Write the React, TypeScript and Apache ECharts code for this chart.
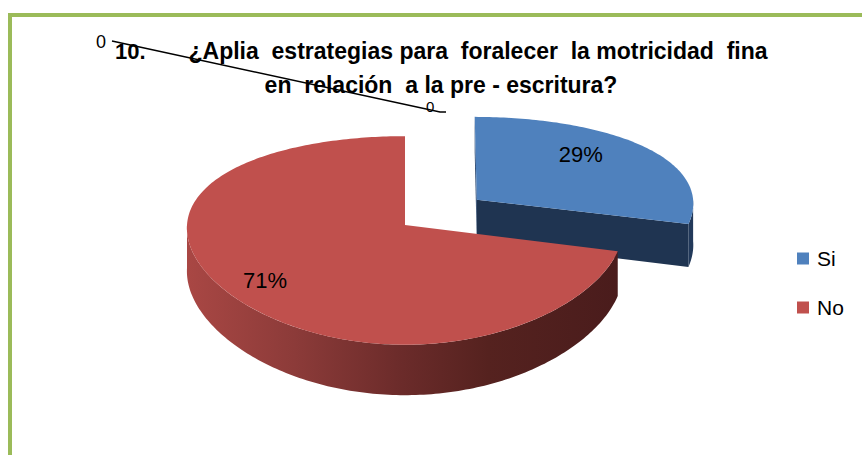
import React, { useEffect, useRef } from "react";
import * as echarts from "echarts";

const categories = ["Si", "No"];
const values = [29, 71];
const titleNumber = "10.";
const titleLines = [
  "¿Aplia  estrategias para  foralecer  la motricidad  fina",
  "en  relación  a la pre - escritura?",
];
const strayLabels = ["0", "0"];

const topColors = ["#4F81BD", "#C0504D"];
const explode = [0.42, 0];
const labelR = [0.62, 0.8];
const labelDy = [-11, 2];

const CX = 405, CY = 225, RX = 218, RY = 102, H = 43, KX = 0.03, KY = 0.148;
const rad = (d: number) => (d * Math.PI) / 180;
function proj(X: number, Z: number, d: number): number[] {
  const px = 1 / (1 - KX * Z);
  const py = 1 / (1 - KY * Z);
  return [CX + RX * X * px, CY + (RY * Z + d) * py];
}

export default function App() {
  const ref = useRef<HTMLDivElement>(null);
  useEffect(() => {
    document.body.style.margin = "0";
    const chart = echarts.init(ref.current as HTMLDivElement, null, { renderer: "svg" });
    const total = values.reduce((a, b) => a + b, 0);

    const renderItem = (params: any, api: any) => {
      const k = params.seriesIndex;
      const v = api.value(0);
      let before = 0;
      for (let i = 0; i < k; i++) before += values[i];
      const s = (before / total) * 360;
      const e = s + (v / total) * 360;
      const mid = (s + e) / 2;
      const ox = explode[k] * Math.sin(rad(mid));
      const oz = -explode[k] * Math.cos(rad(mid));
      const rim = (t: number, d: number) => proj(ox + Math.sin(rad(t)), oz - Math.cos(rad(t)), d);
      const arc = (a: number, b: number, d: number) => {
        const pts: number[][] = [];
        const n = Math.max(2, Math.ceil(b - a));
        for (let i = 0; i <= n; i++) pts.push(rim(a + ((b - a) * i) / n, d));
        return pts;
      };
      const children: any[] = [];
      const faceColor = k === 0 ? "#1F3451" : "#8E3A38";
      const sn = -Math.sin(rad(s));
      if (sn >= -0.01) {
        children.push({
          type: "polygon", z2: 1,
          shape: { points: [proj(ox, oz, 0), rim(s, 0), rim(s, H), proj(ox, oz, H)] },
          style: { fill: k === 0 ? "#2B4870" : faceColor },
        });
      }
      const en = Math.sin(rad(e));
      if (en >= -0.01) {
        children.push({
          type: "polygon", z2: 1,
          shape: { points: [proj(ox, oz, 0), rim(e, 0), rim(e, H), proj(ox, oz, H)] },
          style: { fill: faceColor },
        });
      }
      const a = Math.max(s, 90), b = Math.min(e, 270);
      if (b > a) {
        const pts = arc(a, b, 0).concat(arc(a, b, H).reverse());
        children.push({
          type: "polygon", z2: 2,
          shape: { points: pts },
          style: {
            fill:
              k === 0
                ? "#22395A"
                : new echarts.graphic.LinearGradient(0, 0, 1, 0, [
                    { offset: 0, color: "#A94744" },
                    { offset: 0.25, color: "#8C3B39" },
                    { offset: 0.5, color: "#6B2B2A" },
                    { offset: 0.7, color: "#55221F" },
                    { offset: 1, color: "#4A1C1C" },
                  ]),
          },
        });
      }
      children.push({
        type: "polygon", z2: 3,
        shape: { points: [proj(ox, oz, 0)].concat(arc(s, e, 0)) },
        style: { fill: topColors[k] },
      });
      const lr = labelR[k];
      const lp = proj(ox + lr * Math.sin(rad(mid)), oz - lr * Math.cos(rad(mid)), 0);
      children.push({
        type: "text", z2: 4,
        x: lp[0], y: lp[1] + labelDy[k],
        style: {
          text: Math.round((v / total) * 100) + "%",
          fill: "#000",
          fontSize: 22,
          fontFamily: "'Liberation Sans', sans-serif",
          align: "center",
          verticalAlign: "middle",
        },
      });
      return { type: "group", children };
    };

    const titleFont = "'Liberation Sans', sans-serif";
    const option: any = {
      animation: false,
      backgroundColor: "#ffffff",
      legend: {
        data: categories,
        orient: "vertical",
        left: 797,
        top: 246,
        padding: 0,
        icon: "rect",
        itemWidth: 12,
        itemHeight: 12,
        itemGap: 24,
        textStyle: {
          fontSize: 21,
          lineHeight: 25,
          color: "#000",
          fontFamily: "'Liberation Sans', sans-serif",
          padding: [0, 0, 0, 3],
        },
      },
      graphic: [
        { type: "rect", shape: { x: 8, y: 13, width: 854, height: 4 }, style: { fill: "#9BBB59" } },
        { type: "rect", shape: { x: 8, y: 13, width: 4, height: 442 }, style: { fill: "#9BBB59" } },
        {
          type: "text", x: 96, y: 42,
          style: { text: strayLabels[0], fontSize: 18, fill: "#000", fontFamily: "'Liberation Sans', sans-serif", verticalAlign: "middle" },
        },
        {
          type: "text", x: 115, y: 51,
          style: { text: titleNumber, fontSize: 22, fontWeight: "bold", fill: "#000", fontFamily: titleFont, verticalAlign: "middle" },
        },
        {
          type: "text", x: 478, y: 51,
          style: { text: titleLines[0], fontSize: 23, fontWeight: "bold", fill: "#000", fontFamily: titleFont, align: "center", verticalAlign: "middle" },
        },
        {
          type: "text", x: 441, y: 85,
          style: { text: titleLines[1], fontSize: 23, fontWeight: "bold", fill: "#000", fontFamily: titleFont, align: "center", verticalAlign: "middle" },
        },
        {
          type: "text", x: 426, y: 106,
          style: { text: strayLabels[1], fontSize: 15, fill: "#000", fontFamily: "'Liberation Sans', sans-serif", verticalAlign: "middle" },
        },
        {
          type: "polyline",
          shape: { points: [[112, 41], [440, 112], [446, 112]] },
          style: { stroke: "#000", lineWidth: 1.5, fill: "none" },
        },
      ],
      series: categories.map((name, i) => ({
        type: "custom",
        name,
        coordinateSystem: "none",
        z: 2 + i,
        itemStyle: { color: topColors[i] },
        renderItem,
        data: [[values[i]]],
      })),
    };
    chart.setOption(option);
    return () => chart.dispose();
  }, []);
  return <div ref={ref} style={{ width: 862, height: 455 }} />;
}
